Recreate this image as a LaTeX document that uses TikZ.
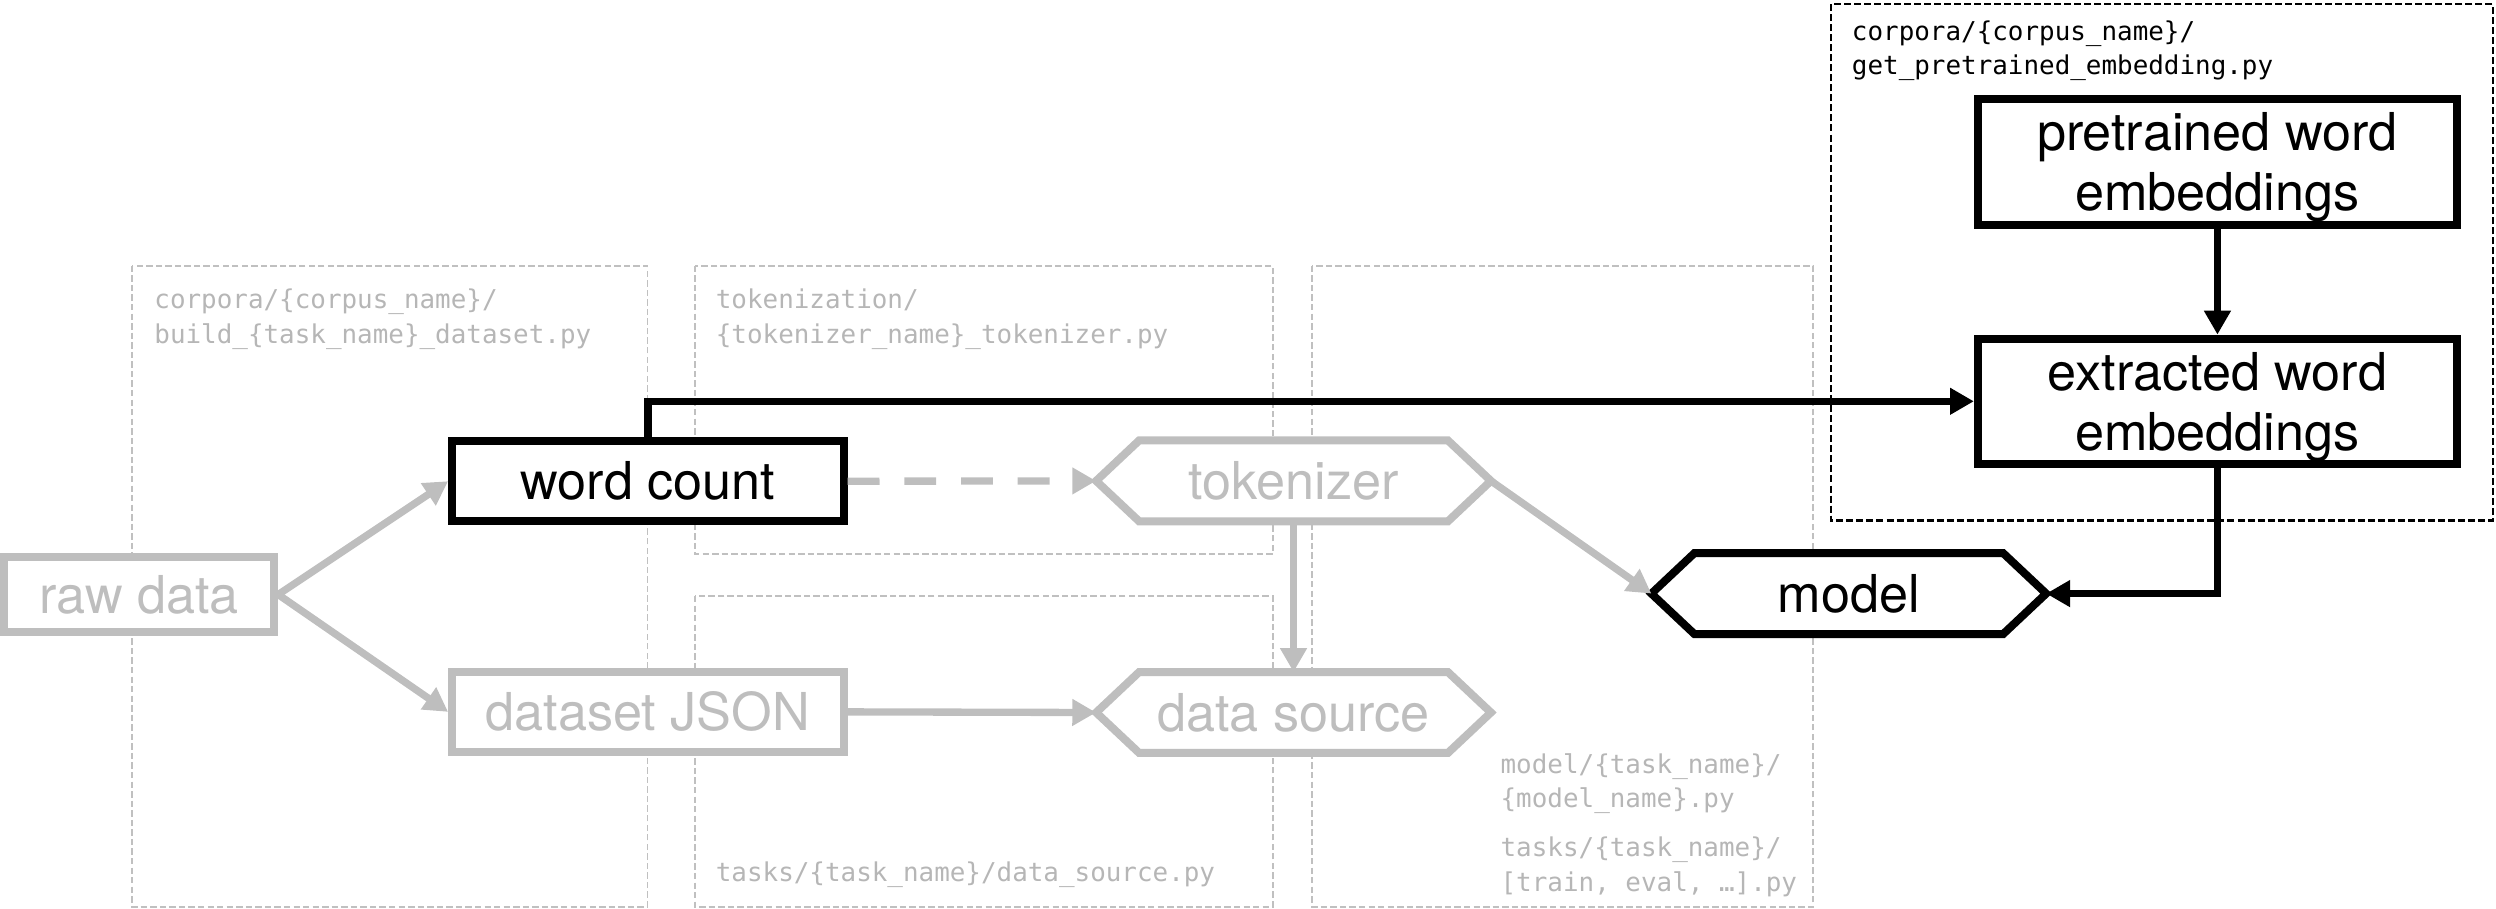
\documentclass[tikz,border=0pt]{standalone}
\usepackage{fontspec}
\newfontfamily\heros{TeX Gyre Heros}
\newfontfamily\dmono{DejaVu Sans Mono}
\usetikzlibrary{arrows.meta}
\pgfdeclarelayer{boxlayer}
\pgfdeclarelayer{hexlayer}
\pgfsetlayers{boxlayer,hexlayer,main}
\definecolor{ncol}{RGB}{190,190,190}
\definecolor{bcol}{RGB}{192,192,192}
\definecolor{tcol}{RGB}{182,182,182}
\begin{document}
\begin{tikzpicture}[x=0.5pt,y=-0.5pt,
  gframe/.style={draw=bcol, line width=0.55pt, dash pattern=on 2pt off 1pt},
  kframe/.style={draw=black, line width=0.7pt, dash pattern=on 2.2pt off 0.95pt},
  codelabel/.style={anchor=base west, inner sep=0pt, font=\dmono\fontsize{8.14pt}{10.8pt}\selectfont},
  graylabel/.style={codelabel, text=tcol},
  blacklabel/.style={codelabel, text=black},
  blockbase/.style={rectangle, inner sep=0pt, outer sep=1.25pt, line width=2.5pt, fill=white,
    font=\heros\fontsize{16.4pt}{18.8pt}\selectfont, align=center},
  grayblock/.style={blockbase, draw=ncol, text=ncol},
  blackblock/.style={blockbase, draw=black, text=black},
  hexgeom/.style={rectangle, inner sep=0pt, outer sep=0pt, draw=none,
    minimum width=124pt, minimum height=25.4pt,
    font=\heros\fontsize{16.4pt}{18.8pt}\selectfont},
  hexline/.style={line width=2.5pt, fill=white, line join=miter},
  garrow/.style={draw=ncol, line width=2.3pt, -{Triangle[length=7.5pt,width=8pt]}},
  karrow/.style={draw=black, line width=2.3pt, -{Triangle[length=7.5pt,width=8pt]}},
]
\useasboundingbox (0,0) rectangle (1568,571);

% containers
\begin{pgfonlayer}{boxlayer}
\draw[gframe] (83,167) rectangle (406.8,569.6);
\draw[gframe] (436.4,167) rectangle (799.5,348);
\draw[gframe] (436.4,374.4) rectangle (799.5,569.6);
\draw[gframe] (824.3,167) rectangle (1139,569.6);
\draw[kframe] (1150.4,2.6) rectangle (1566,327);
\end{pgfonlayer}

% file labels
\node[graylabel] (la1) at (96.6,194) {corpora/\{corpus\_name\}/};
\node[graylabel] (la2) at (96.6,215.7) {build\_\{task\_name\}\_dataset.py};
\node[graylabel] (lb1) at (449.3,194) {tokenization/};
\node[graylabel] (lb2) at (449.3,215.7) {\{tokenizer\_name\}\_tokenizer.py};
\node[graylabel] (lc1) at (449.3,553.7) {tasks/\{task\_name\}/data\_source.py};
\node[graylabel] (ld1) at (942.3,485.8) {model/\{task\_name\}/};
\node[graylabel] (ld2) at (942.3,507.4) {\{model\_name\}.py};
\node[graylabel] (ld3) at (942.3,537.8) {tasks/\{task\_name\}/};
\node[graylabel] (ld4) at (942.3,559.8) {[train, eval, …].py};
\node[blacklabel] (le1) at (1163,25.4) {corpora/\{corpus\_name\}/};
\node[blacklabel] (le2) at (1163,47) {get\_pretrained\_embedding.py};

% blocks
\node[grayblock, minimum width=84.75pt, minimum height=23.5pt] (raw) at (87.5,373.5) {raw data};
\node[blackblock, minimum width=123pt, minimum height=25.15pt] (wc) at (407,302.3) {word count};
\node[grayblock, minimum width=123pt, minimum height=25.15pt] (ds) at (407,447.2) {dataset JSON};
\node[hexgeom, text=ncol] (tok) at (812.6,302.1) {tokenizer};
\node[hexgeom, text=ncol] (dsrc) at (812.6,447.6) {data source};
\node[hexgeom, text=black] (model) at (1161.4,372.9) {model};
\node[blackblock, minimum width=150.5pt, minimum height=39.5pt, text depth=0pt] (pre) at (1393,101.7) {pretrained word\\embeddings};
\node[blackblock, minimum width=150.5pt, minimum height=39.4pt, text depth=0pt] (ext) at (1393,252.1) {extracted word\\embeddings};

\begin{pgfonlayer}{hexlayer}
\foreach \h/\c in {tok/ncol,dsrc/ncol,model/black}
  \draw[hexline, draw=\c] (\h.west) -- ([xshift=13.5pt]\h.north west) -- ([xshift=-13.5pt]\h.north east)
    -- (\h.east) -- ([xshift=-13.5pt]\h.south east) -- ([xshift=13.5pt]\h.south west) -- cycle;
\end{pgfonlayer}

% connectors
\draw[garrow] (raw.east) -- (wc.west);
\draw[garrow] (raw.east) -- (ds.west);
\draw[garrow, dash pattern=on 10pt off 7.8pt] (wc.east) -- (tok.west);
\draw[garrow] (ds.east) -- (dsrc.west);
\draw[garrow] (tok.south) -- (dsrc.north);
\draw[garrow] (tok.east) -- (model.west);
\draw[karrow] (wc.north) |- (ext.west);
\draw[karrow] (pre.south) -- (ext.north);
\draw[karrow] (ext.south) |- (model.east);
\end{tikzpicture}
\end{document}
